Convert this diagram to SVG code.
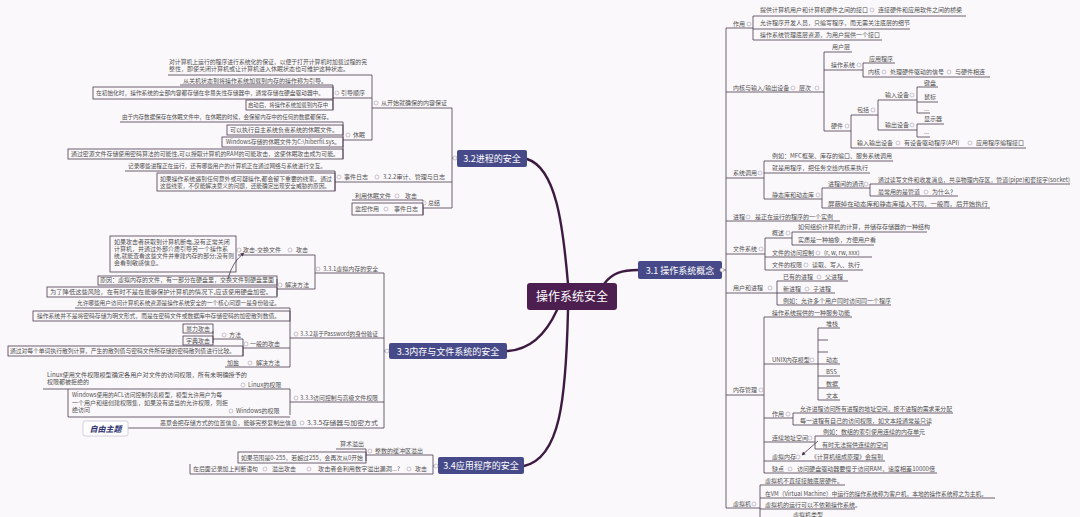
<svg xmlns="http://www.w3.org/2000/svg" width="1080" height="517" viewBox="0 0 1080 517">
<defs>
<style>
.t{font-family:"Noto Sans CJK SC","Noto Sans",sans-serif;font-size:6px;fill:#505050}
.ln{fill:none;stroke:#4a3a4f;stroke-width:0.8}
.bx{fill:none;stroke:#4a3a4f;stroke-width:0.8}
.mk{fill:#fbf8fb;stroke:#a8a0ac;stroke-width:0.6}
.main{fill:none;stroke:#3d1a42;stroke-width:2.4;stroke-linecap:round}
.sec{fill:#474a88}
.st{font-family:"Noto Sans CJK SC","Noto Sans",sans-serif;font-size:9px;fill:#ffffff;text-anchor:middle}
</style>
<marker id="arr" viewBox="0 0 6 6" refX="5" refY="3" markerWidth="5" markerHeight="5" orient="auto"><path d="M0,0 L6,3 L0,6 z" fill="#4a3a4f"/></marker>
</defs>
<rect width="1080" height="517" fill="#fbf8fb"/>

<g id="connectors">
<path class="main" d="M604 284 C612 273 622 270 638 270"/>
<path class="main" d="M568 284 C563 225 556 168 527 159"/>
<path class="main" d="M557 310 C546 334 530 350 507 351"/>
<path class="main" d="M568 310 C566 400 560 458 524 466"/>
<path class="ln" d="M726 28 V508 M722 270 H726
M726 28 H753 M753 16 V40 M753 16 H966 M753 29 H910 M753 40 H882
M726 92 H824 M824 52 V131 M824 52 H852 M824 70 H863 M863 63 V77 M863 63 H895 M863 77 H990
M824 131 H851 M851 115 V148 M851 115 H878 M878 100 V130 M878 100 H917 M917 87 V113 M917 87 H938 M917 102 H938 M917 113 H930
M878 130 H917 M917 124 V137 M917 124 H944 M917 137 H930 M851 148 H1026
M726 178 H764 M764 161 V199 M764 161 H893 M764 173 H870 M764 199 H822 M822 188 V208 M822 188 H870 M870 184 V196 M870 184 H1070 M870 196 H958 M822 208 H990
M726 221 H840
M726 254 H765 M765 238 V270 M765 238 H792 M792 232 V245 M792 232 H927 M792 245 H874 M765 257 H872 M765 270 H863
M726 293 H777 M777 281 V305 M777 281 H848 M777 293 H835 M777 305 H891
M726 395 H764 M764 317 V473 M764 317 H852 M764 364 H818 M818 328 V400 M818 328 H840 M818 340 H828 M818 352 H828 M818 364 H840 M818 376 H840 M818 388 H840 M818 400 H840
M764 418 H793 M793 413 V425 M793 413 H953 M793 425 H930
M764 442 H815 M815 436 V449 M815 436 H920 M815 449 H888
M764 461 H885 M764 473 H937
M726 508 H760 M760 485 V517 M760 485 H845 M760 498 H995 M760 509 H855
M452 108 V208 M452 158 H457
M372 108 H452 M372 75 V140 M168 75 H372 M333 98 H372 M333 85 V110 M180 85 H333
M343 140 H372 M343 122 V159 M120 122 H343
M335 182 H452 M335 171 V191 M125 171 H335
M423 208 H452 M423 200 V215 M352 200 H423
M384 273 V428 M384 351 H389
M315 273 H384 M315 255 V289 M238 255 H315 M277 289 H315 M277 279 V296
M290 338 H384 M290 308 V367 M75 308 H290 M243 348 H290 M243 339 V356 M213 339 H243 M213 331 V343 M225 367 H290
M290 402 H384 M290 389 V415 M43 389 H290 M68 389 V417 M68 417 H290
M118 428 H384
M433 455 V474 M433 466 H438 M366 455 H433 M366 449 V461 M336 449 H366 M190 474 H433 M190 464 V474"/>
<path class="ln" d="M818 441 L802 455" marker-end="url(#arr)"/>
<path class="ln" d="M228 279 Q232 262 244 253" marker-end="url(#arr)"/>
</g>

<g id="center">
<rect x="527" y="283" width="90" height="27" rx="3" fill="#4d1f50"/>
<text x="572" y="300.5" style="font-family:'Noto Sans CJK SC','Noto Sans',sans-serif;font-size:12px;fill:#ffffff;text-anchor:middle">操作系统安全</text>
</g>

<g id="s31">
<rect class="sec" x="638" y="261" width="84" height="18" rx="2"/>
<text class="st" x="680" y="273.5">3.1 操作系统概念</text>
<circle class="mk" cx="722" cy="270" r="2"/>
</g>
<g id="s32">
<rect class="sec" x="457" y="150" width="70" height="17" rx="2"/>
<text class="st" x="492" y="161.5">3.2进程的安全</text>
<circle class="mk" cx="455" cy="158" r="2"/>
</g>
<g id="s33">
<rect class="sec" x="389" y="343" width="118" height="16" rx="2"/>
<text class="st" x="448" y="354.5">3.3内存与文件系统的安全</text>
<circle class="mk" cx="387" cy="351" r="2"/>
</g>
<g id="s34">
<rect class="sec" x="438" y="457" width="86" height="17" rx="2"/>
<text class="st" x="481" y="468.5">3.4应用程序的安全</text>
<circle class="mk" cx="436" cy="466" r="2"/>
</g>

<g id="n-zuoyong">
<text class="t" x="733" y="26">作用</text><circle class="mk" cx="749" cy="24" r="2"/>
<text class="t" x="760" y="12">提供计算机用户和计算机硬件之间的接口</text><circle class="mk" cx="872" cy="10" r="2"/>
<text class="t" x="878" y="12">连接硬件和应用软件之间的桥梁</text>
<text class="t" x="760" y="25">允许程序开发人员，只编写程序，而无需关注底层的细节</text>
<text class="t" x="760" y="37">操作系统管理底层资源，为用户提供一个接口</text>
</g>
<g id="n-neihe">
<text class="t" x="733" y="90">内核与输入/输出设备</text><circle class="mk" cx="793" cy="88" r="2"/>
<text class="t" x="799" y="90">层次</text><circle class="mk" cx="817" cy="88" r="2"/>
<text class="t" x="832" y="49">用户层</text>
<text class="t" x="831" y="67">操作系统</text><circle class="mk" cx="859" cy="65" r="2"/>
<text class="t" x="869" y="61">应用程序</text>
<text class="t" x="868" y="74">内核</text><circle class="mk" cx="884" cy="72" r="2"/>
<text class="t" x="890" y="74">处理硬件驱动的信号</text><circle class="mk" cx="949" cy="72" r="2"/>
<text class="t" x="955" y="74">与硬件相连</text>
<text class="t" x="831" y="128">硬件</text><circle class="mk" cx="847" cy="126" r="2"/>
<text class="t" x="857" y="112">包括</text><circle class="mk" cx="873" cy="110" r="2"/>
<text class="t" x="885" y="97">输入设备</text><circle class="mk" cx="912" cy="95" r="2"/>
<text class="t" x="924" y="85">键盘</text>
<text class="t" x="924" y="99">鼠标</text>
<text class="t" x="924" y="111">...</text>
<text class="t" x="885" y="127">输出设备</text><circle class="mk" cx="912" cy="125" r="2"/>
<text class="t" x="924" y="121">显示器</text>
<text class="t" x="924" y="134">...</text>
<text class="t" x="857" y="145">输入输出设备</text><circle class="mk" cx="898" cy="143" r="2"/>
<text class="t" x="904" y="145">有设备驱动程序(API)</text><circle class="mk" cx="970" cy="143" r="2"/>
<text class="t" x="976" y="145">应用程序编程接口</text>
</g>
<g id="n-xitongdiaoyong">
<text class="t" x="733" y="175">系统调用</text><circle class="mk" cx="760" cy="173" r="2"/>
<text class="t" x="772" y="158">例如：MFC框架、库存的编口、服务系统调用</text>
<text class="t" x="772" y="170">就是用程序，把任务交给内核来执行</text>
<text class="t" x="772" y="197">静态库和动态库</text><circle class="mk" cx="818" cy="195" r="2"/>
<text class="t" x="828" y="186">进程间的通讯</text><circle class="mk" cx="866" cy="184" r="2"/>
<text class="t" x="878" y="182" textLength="192" lengthAdjust="spacingAndGlyphs">通过读写文件和收发消息，共享物理内存区，管道(pipe)和套接字(socket)</text>
<text class="t" x="878" y="194">最常用的是管道</text><circle class="mk" cx="926" cy="192" r="2"/>
<text class="t" x="932" y="194">为什么？</text>
<text class="t" x="828" y="206" textLength="160" lengthAdjust="spacingAndGlyphs">屏蔽掉在动态库和静态库插入不同，一般而，后开始执行</text>
</g>
<g id="n-jincheng">
<text class="t" x="733" y="219">进程</text><circle class="mk" cx="748" cy="217" r="2"/>
<text class="t" x="755" y="219">是正在运行的程序的一个实例</text>
</g>
<g id="n-wenjian">
<text class="t" x="733" y="251">文件系统</text><circle class="mk" cx="761" cy="249" r="2"/>
<text class="t" x="772" y="235">概述</text><circle class="mk" cx="788" cy="233" r="2"/>
<text class="t" x="798" y="229">如何组织计算机的计算，并储存存储器的一种结构</text>
<text class="t" x="798" y="242">实质是一种抽象，方便用户看</text>
<text class="t" x="772" y="255">文件的访问控制</text><circle class="mk" cx="818" cy="253" r="2"/>
<text class="t" x="824" y="255">(r, w, rw, xxx)</text>
<text class="t" x="772" y="267">文件的权限</text><circle class="mk" cx="806" cy="265" r="2"/>
<text class="t" x="812" y="267">读取、写入、执行</text>
</g>
<g id="n-yonghu">
<text class="t" x="733" y="290">用户和进程</text><circle class="mk" cx="770" cy="288" r="2"/>
<text class="t" x="783" y="279">已有的进程</text><circle class="mk" cx="819" cy="277" r="2"/>
<text class="t" x="825" y="279">父进程</text>
<text class="t" x="783" y="291">新进程</text><circle class="mk" cx="807" cy="289" r="2"/>
<text class="t" x="813" y="291">子进程</text>
<text class="t" x="783" y="303">例如：允许多个用户同时访问同一个程序</text>
</g>
<g id="n-neicun">
<text class="t" x="733" y="392">内存管理</text><circle class="mk" cx="761" cy="390" r="2"/>
<text class="t" x="772" y="315">操作系统提供的一种服务功能</text>
<text class="t" x="772" y="362">UNIX内存模型</text><circle class="mk" cx="812" cy="360" r="2"/>
<text class="t" x="826" y="326">堆栈</text>
<text class="t" x="826" y="362">动态</text>
<text class="t" x="826" y="374">BSS</text>
<text class="t" x="826" y="386">数据</text>
<text class="t" x="826" y="398">文本</text>
<text class="t" x="772" y="416">作用</text><circle class="mk" cx="788" cy="414" r="2"/>
<text class="t" x="800" y="411" textLength="152" lengthAdjust="spacingAndGlyphs">允许进程访问所有进程的地址空间，按不进程的需求来分配</text>
<text class="t" x="800" y="423">每一进程有自己的访问权限，如文本段通常是只读</text>
<text class="t" x="772" y="440">连续地址空间</text><circle class="mk" cx="810" cy="438" r="2"/>
<text class="t" x="823" y="434">例如：数组的索引使用连续的内存单元</text>
<text class="t" x="822" y="447">有时无法提供连续的空间</text>
<text class="t" x="772" y="459">虚拟内存</text><circle class="mk" cx="798" cy="457" r="2"/>
<text class="t" x="811" y="459">《计算机组成原理》会提到</text>
<text class="t" x="772" y="471">缺点</text><circle class="mk" cx="790" cy="469" r="2"/>
<text class="t" x="797" y="471" textLength="138" lengthAdjust="spacingAndGlyphs">访问硬盘驱动器要慢于访问RAM，速度相差10000倍</text>
</g>
<g id="n-xuniji">
<text class="t" x="733" y="506">虚拟机</text><circle class="mk" cx="754" cy="504" r="2"/>
<text class="t" x="765" y="483">虚拟机不直接接触底层硬件。</text>
<text class="t" x="765" y="496" textLength="222" lengthAdjust="spacingAndGlyphs">在VM（Virtual Machine）中运行的操作系统称为客户机，本地的操作系统称之为主机。</text>
<text class="t" x="765" y="507">虚拟机的运行可以不依赖操作系统。</text>
<text class="t" x="793" y="517">虚拟机类型</text>
</g>

<g id="n-wanzheng">
<text class="t" x="381" y="105">从开始就确保的内容保证</text><circle class="mk" cx="376" cy="103" r="2"/>
<text class="t" x="169" y="64" textLength="198" lengthAdjust="spacingAndGlyphs">对计算机上运行的程序进行系统化的保证，以便于打开计算机时加载过程的完</text>
<text class="t" x="169" y="71">整性，即使关闭计算机或让计算机进入休眠状态也可维护这种状态。</text>
<text class="t" x="341" y="95">引导顺序</text><circle class="mk" cx="337" cy="93" r="2"/>
<text class="t" x="183" y="83">从关机状态到将操作系统加载到内存的操作称为引导。</text>
<rect class="bx" x="93" y="87" width="240" height="12"/>
<text class="t" x="96" y="95" textLength="228" lengthAdjust="spacingAndGlyphs">在初始化时，操作系统的全部内容都存储在非易失性存储器中，通常存储在硬盘驱动器中。</text>
<rect class="bx" x="246" y="100" width="87" height="10"/>
<text class="t" x="248" y="107" textLength="80" lengthAdjust="spacingAndGlyphs">启动后，将操作系统加载到内存中</text>
<text class="t" x="353" y="137">休眠</text><circle class="mk" cx="348" cy="135" r="2"/>
<text class="t" x="122" y="119" textLength="210" lengthAdjust="spacingAndGlyphs">由于内存数据保存在休眠文件中，在休眠的时候，会保留内存中的任何的数据都保存。</text>
<rect class="bx" x="227" y="125" width="116" height="10"/>
<text class="t" x="230" y="132" textLength="108" lengthAdjust="spacingAndGlyphs">可以执行自主系统负责系统的休眠文件。</text>
<rect class="bx" x="222" y="137" width="121" height="10"/>
<text class="t" x="226" y="144" textLength="114" lengthAdjust="spacingAndGlyphs">Windows存储的休眠文件为C:\hiberfil.sys。</text>
<rect class="bx" x="68" y="149" width="275" height="10"/>
<text class="t" x="71" y="156" textLength="268" lengthAdjust="spacingAndGlyphs">通过密源文件存储使用密码算法的可能性,可以授取计算机的RAM的可能攻击，这使休眠攻击成为可能。</text>
</g>
<g id="n-rizhi">
<circle class="mk" cx="339" cy="177" r="2"/>
<text class="t" x="344" y="179">事件日志</text><circle class="mk" cx="377" cy="177" r="2"/>
<text class="t" x="383" y="179" textLength="62" lengthAdjust="spacingAndGlyphs">3.2.2审计、管理与日志</text>
<text class="t" x="128" y="168" textLength="198" lengthAdjust="spacingAndGlyphs">记录哪些进程正在运行，还有哪些用户的计算机正在通过网络与系统进行交互。</text>
<rect class="bx" x="157" y="173" width="178" height="18"/>
<text class="t" x="160" y="181" textLength="172" lengthAdjust="spacingAndGlyphs">如果操作系统遇到任何意外或可疑操作,都会留下重要的线索。通过</text>
<text class="t" x="160" y="188" textLength="170" lengthAdjust="spacingAndGlyphs">这些线索，不仅能解决意义的问题，还能确定出现安全威胁的原因。</text>
</g>
<g id="n-zongjie">
<circle class="mk" cx="424" cy="203" r="2"/>
<text class="t" x="428" y="205">总结</text>
<text class="t" x="355" y="198">利用休眠文件</text><circle class="mk" cx="397" cy="196" r="2"/>
<text class="t" x="405" y="198">攻击</text>
<rect class="bx" x="352" y="203" width="71" height="12"/>
<text class="t" x="355" y="211">监控作用</text><circle class="mk" cx="386" cy="209" r="2"/>
<text class="t" x="394" y="211">事件日志</text>
</g>

<g id="n-331">
<circle class="mk" cx="318" cy="269" r="2"/>
<text class="t" x="323" y="271">3.3.1虚拟内存的安全</text>
<text class="t" x="296" y="252">攻击</text><circle class="mk" cx="290" cy="250" r="2"/>
<text class="t" x="243" y="252">攻击-交换文件</text><circle class="mk" cx="239" cy="250" r="2"/>
<rect class="bx" x="110" y="236" width="126" height="36"/>
<text class="t" x="114" y="244">如果攻击者获取到计算机断电,没有正常关闭</text>
<text class="t" x="114" y="251">计算机，并通过外部介质引导另一个操作系</text>
<text class="t" x="114" y="258" textLength="120" lengthAdjust="spacingAndGlyphs">统,就能查看这些文件并重建内存的部分;没有则</text>
<text class="t" x="114" y="265">会看到敏感信息。</text>
<text class="t" x="285" y="287">解决方法</text><circle class="mk" cx="280" cy="285" r="2"/>
<rect class="bx" x="98" y="276" width="179" height="9"/>
<text class="t" x="100" y="282" textLength="174" lengthAdjust="spacingAndGlyphs">原因：虚拟内存的文件，有一部分在硬盘里，交换文件到硬盘里面</text>
<rect class="bx" x="47" y="287" width="230" height="10"/>
<text class="t" x="50" y="294" textLength="222" lengthAdjust="spacingAndGlyphs">为了降低这些风险，在有时不是在能够保护计算机的情况下,应该使用硬盘加密。</text>
</g>
<g id="n-332">
<circle class="mk" cx="296" cy="334" r="2"/>
<text class="t" x="300" y="336" textLength="78" lengthAdjust="spacingAndGlyphs">3.3.2基于Password的身份验证</text>
<text class="t" x="77" y="305" textLength="203" lengthAdjust="spacingAndGlyphs">允许哪些用户访问计算机系统资源是操作系统安全的一个核心问题一是身份验证。</text>
<rect class="bx" x="33" y="311" width="257" height="10"/>
<text class="t" x="37" y="318" textLength="243" lengthAdjust="spacingAndGlyphs">操作系统并不是将密码存储为明文形式，而是在密码文件或数据库中存储密码的加密散列数值。</text>
<circle class="mk" cx="246" cy="344" r="2"/>
<text class="t" x="250" y="346">一般的攻击</text>
<circle class="mk" cx="224" cy="335" r="2"/>
<text class="t" x="229" y="337">方法</text>
<rect class="bx" x="183" y="324" width="30" height="9"/>
<text class="t" x="186" y="331">暴力攻击</text>
<rect class="bx" x="183" y="336" width="30" height="9"/>
<text class="t" x="186" y="343">字典攻击</text>
<rect class="bx" x="8" y="346" width="235" height="10"/>
<text class="t" x="10" y="353" textLength="225" lengthAdjust="spacingAndGlyphs">通过对每个单词执行散列计算，产生的散列值与密码文件所存储的密码散列值进行比较。</text>
<text class="t" x="227" y="365">加盐</text><circle class="mk" cx="250" cy="363" r="2"/>
<text class="t" x="256" y="365">解决方法</text>
</g>
<g id="n-333">
<circle class="mk" cx="296" cy="398" r="2"/>
<text class="t" x="300" y="400" textLength="78" lengthAdjust="spacingAndGlyphs">3.3.3访问控制与高级文件权限</text>
<circle class="mk" cx="243" cy="385" r="2"/>
<text class="t" x="248" y="387">Linux的权限</text>
<text class="t" x="47" y="377" textLength="200" lengthAdjust="spacingAndGlyphs">Linux使用文件权限模型确定各用户对文件的访问权限，所有未明确授予的</text>
<text class="t" x="47" y="384">权限都被拒绝的</text>
<circle class="mk" cx="231" cy="411" r="2"/>
<text class="t" x="236" y="413">Windows的权限</text>
<text class="t" x="72" y="397" textLength="150" lengthAdjust="spacingAndGlyphs">Windows使用的ACL访问控制列表模型，模型允许用户为每</text>
<text class="t" x="72" y="405" textLength="156" lengthAdjust="spacingAndGlyphs">一个用户和组创建权限集，如果没有适当的允许权限，则拒</text>
<text class="t" x="72" y="412">绝访问</text>
</g>
<g id="n-335">
<text class="t" x="160" y="425" textLength="137" lengthAdjust="spacingAndGlyphs">恶意会把存储方式的位置信息，能够完整复制出信息</text>
<circle class="mk" cx="302" cy="423" r="2"/>
<text class="t" x="307" y="425" textLength="71" lengthAdjust="spacingAndGlyphs">3.3.5存储器与加密方式</text>
</g>
<g id="n-ziyou">
<rect x="83" y="421" width="45" height="15" rx="2" fill="#ffffff" stroke="#c9c3d6" stroke-width="0.8"/>
<text x="105.5" y="431.5" style="font-family:'Noto Sans CJK SC','Noto Sans',sans-serif;font-size:8px;font-weight:bold;font-style:italic;fill:#2d2f6e;text-anchor:middle">自由主题</text>
</g>

<g id="n-zhengshu">
<circle class="mk" cx="370" cy="451" r="2"/>
<text class="t" x="375" y="453">整数的缓冲区溢出</text>
<text class="t" x="340" y="446">算术溢出</text>
<rect class="bx" x="238" y="452" width="128" height="11"/>
<text class="t" x="241" y="460" textLength="122" lengthAdjust="spacingAndGlyphs">如果范围是0-255，若超过255，会再次从0开始</text>
</g>
<g id="n-gongji">
<text class="t" x="193" y="471" textLength="65" lengthAdjust="spacingAndGlyphs">在后面记录加上判断语句</text><circle class="mk" cx="265" cy="469" r="2"/>
<text class="t" x="272" y="471">溢出攻击</text><circle class="mk" cx="309" cy="469" r="2"/>
<text class="t" x="318" y="471" textLength="82" lengthAdjust="spacingAndGlyphs">攻击者会利用数字溢出漏洞...?</text><circle class="mk" cx="409" cy="469" r="2"/>
<text class="t" x="415" y="471">攻击</text>
</g>
</svg>
